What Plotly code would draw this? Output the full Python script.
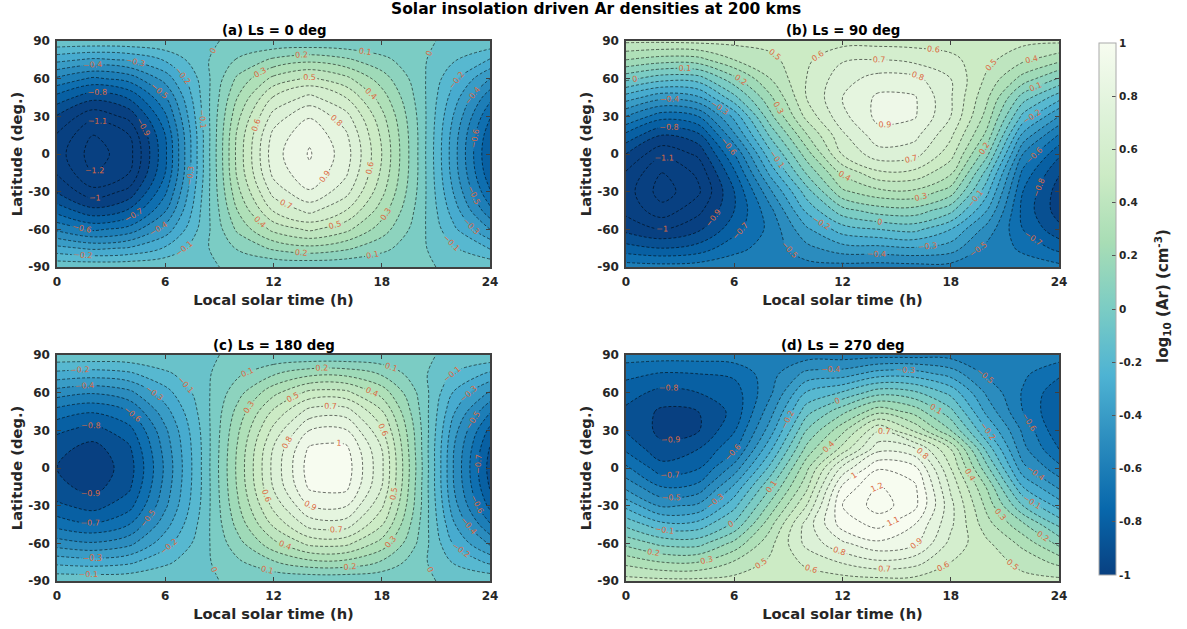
import plotly.graph_objects as go

W, H = 1187, 629
hours = [0, 2, 4, 6, 8, 10, 12, 14, 16, 18, 20, 22, 24]
lats = [90, 75, 60, 45, 30, 15, 0, -15, -30, -45, -60, -75, -90]
x_ticks = [0, 6, 12, 18, 24]
y_ticks = [-90, -60, -30, 0, 30, 60, 90]
y_tick_text = ["-90", "-60", "-30", "0", "30", "60", "90"]
bar_ticks = [-1, -0.8, -0.6, -0.4, -0.2, 0, 0.2, 0.4, 0.6, 0.8, 1]
bar_tick_text = ["-1", "-0.8", "-0.6", "-0.4", "-0.2", "0", "0.2", "0.4", "0.6", "0.8", "1"]

z_a = [
    [-.02, -.02, -.02, -.01, -.01, .01, .01, .01, .01, .01, .01, -.01, -.02],
    [-.27, -.32, -.29, -.19, -.03, .11, .22, .27, .22, .13, .03, -.09, -.21],
    [-.52, -.62, -.56, -.36, -.07, .22, .43, .52, .43, .25, .05, -.18, -.40],
    [-.74, -.87, -.79, -.51, -.09, .30, .61, .73, .60, .35, .07, -.25, -.57],
    [-.91, -1.07, -.97, -.62, -.11, .37, .74, .89, .74, .43, .09, -.31, -.69],
    [-1.01, -1.20, -1.10, -.70, -.13, .42, .83, .98, .82, .48, .10, -.35, -.77],
    [-1.05, -1.25, -1.14, -.72, -.13, .43, .86, 1.01, .85, .50, .10, -.36, -.80],
    [-1.01, -1.20, -1.10, -.70, -.13, .42, .83, .98, .82, .48, .10, -.35, -.77],
    [-.91, -1.07, -.97, -.62, -.11, .37, .74, .89, .74, .43, .09, -.31, -.69],
    [-.74, -.87, -.79, -.51, -.09, .30, .61, .73, .60, .35, .07, -.25, -.57],
    [-.52, -.62, -.56, -.36, -.07, .22, .43, .52, .43, .25, .05, -.18, -.40],
    [-.27, -.32, -.29, -.19, -.03, .11, .22, .27, .22, .13, .03, -.09, -.21],
    [-.02, -.02, -.02, -.01, -.01, .01, .01, .01, .01, .01, .01, -.01, -.02],
]

z_b = [
    [.52, .52, .53, .53, .54, .55, .56, .56, .56, .55, .54, .53, .52],
    [.30, .25, .26, .40, .47, .58, .69, .70, .67, .63, .53, .42, .33],
    [.03, -.06, -.05, .17, .40, .60, .76, .84, .83, .70, .48, .26, .09],
    [-.25, -.37, -.32, -.03, .28, .60, .80, .92, .91, .71, .42, .05, -.16],
    [-.50, -.66, -.60, -.27, .17, .53, .77, .93, .91, .70, .36, -.13, -.40],
    [-.73, -.90, -.83, -.42, .02, .39, .68, .86, .83, .62, .27, -.33, -.61],
    [-.90, -1.08, -.98, -.60, -.13, .25, .61, .76, .74, .54, .13, -.50, -.78],
    [-1.01, -1.20, -1.08, -.72, -.27, .11, .42, .58, .57, .42, -.04, -.63, -.89],
    [-1.05, -1.25, -1.12, -.80, -.42, -.05, .28, .37, .38, .25, -.17, -.70, -.95],
    [-1.03, -1.16, -1.03, -.80, -.53, -.18, .06, .15, .16, .03, -.30, -.73, -.95],
    [-.93, -1.00, -.92, -.74, -.57, -.32, -.15, -.10, -.07, -.20, -.44, -.70, -.87],
    [-.76, -.80, -.76, -.63, -.56, -.43, -.34, -.33, -.31, -.35, -.53, -.62, -.73],
    [-.55, -.56, -.55, -.54, -.53, -.54, -.54, -.55, -.54, -.54, -.55, -.55, -.57],
]

z_c = [
    [-.02, -.02, -.02, -.01, -.01, .01, .01, .01, .01, .01, .01, -.01, -.02],
    [-.23, -.25, -.22, -.12, -.03, .08, .19, .27, .27, .19, .04, -.11, -.22],
    [-.45, -.49, -.43, -.24, -.05, .16, .37, .53, .53, .36, .09, -.21, -.42],
    [-.64, -.69, -.60, -.34, -.07, .23, .52, .74, .75, .51, .12, -.29, -.59],
    [-.78, -.84, -.74, -.42, -.09, .28, .63, .90, .91, .62, .15, -.36, -.73],
    [-.87, -.94, -.82, -.46, -.10, .31, .71, 1.02, 1.03, .70, .16, -.40, -.81],
    [-.90, -.97, -.85, -.48, -.10, .32, .73, 1.05, 1.06, .72, .17, -.41, -.84],
    [-.87, -.94, -.82, -.46, -.10, .31, .71, 1.02, 1.03, .70, .16, -.40, -.81],
    [-.78, -.84, -.74, -.42, -.09, .28, .63, .90, .91, .62, .15, -.36, -.73],
    [-.64, -.69, -.60, -.34, -.07, .23, .52, .74, .75, .51, .12, -.29, -.59],
    [-.45, -.49, -.43, -.24, -.05, .16, .37, .53, .53, .36, .09, -.21, -.42],
    [-.23, -.25, -.22, -.12, -.03, .08, .19, .27, .27, .19, .04, -.11, -.22],
    [-.02, -.02, -.02, -.01, -.01, .01, .01, .01, .01, .01, .01, -.01, -.02],
]

z_d = [
    [-.55, -.55, -.55, -.54, -.54, -.55, -.55, -.54, -.54, -.54, -.54, -.55, -.55],
    [-.67, -.71, -.70, -.68, -.54, -.37, -.35, -.25, -.25, -.34, -.52, -.58, -.68],
    [-.76, -.83, -.80, -.75, -.52, -.19, -.09, .06, .02, -.13, -.42, -.61, -.77],
    [-.82, -.92, -.90, -.77, -.44, -.04, .17, .37, .26, .03, -.33, -.60, -.80],
    [-.81, -.93, -.91, -.71, -.35, .10, .37, .69, .48, .20, -.20, -.52, -.78],
    [-.72, -.87, -.80, -.62, -.22, .23, .54, .87, .82, .50, -.03, -.47, -.70],
    [-.58, -.76, -.71, -.46, -.07, .37, .83, 1.09, 1.03, .60, .13, -.37, -.57],
    [-.43, -.60, -.57, -.28, .09, .47, 1.02, 1.21, 1.12, .68, .29, -.20, -.42],
    [-.23, -.42, -.38, -.13, .23, .60, 1.10, 1.25, 1.13, .73, .37, .00, -.24],
    [-.03, -.17, -.16, .02, .37, .74, 1.05, 1.13, 1.00, .72, .44, .22, -.02],
    [.17, .07, .06, .23, .47, .73, .88, .98, .92, .67, .52, .37, .17],
    [.37, .30, .30, .41, .52, .62, .71, .78, .74, .60, .55, .47, .37],
    [.54, .53, .53, .54, .55, .55, .55, .56, .56, .54, .55, .53, .53],
]

panels = [
    ("(a) Ls = 0 deg", z_a, 57, 490, 41, 267),
    ("(b) Ls = 90 deg", z_b, 626, 1059, 41, 267),
    ("(c) Ls = 180 deg", z_c, 57, 490, 355, 581),
    ("(d) Ls = 270 deg", z_d, 626, 1059, 355, 581),
]

FONT = "DejaVu Sans"
DARK = "#262626"

# GnBu reversed, spanning -1..1
cbar_scale = [[0, "rgb(8,64,129)"], [0.125, "rgb(8,104,172)"], [0.25, "rgb(43,140,190)"],
              [0.375, "rgb(78,179,211)"], [0.5, "rgb(123,204,196)"], [0.625, "rgb(168,221,181)"],
              [0.75, "rgb(204,235,197)"], [0.875, "rgb(224,243,219)"], [1, "rgb(247,252,240)"]]
# Filled contours ignore cmin/cmax: stretch the stops so each band takes the colour of its lower level
LOW, HIGH = -1.4, 1.3
fill_scale = [[0, cbar_scale[0][1]]]
for pos, c in cbar_scale:
    v = -1 + 2 * pos
    fill_scale.append([(v - LOW) / (HIGH - LOW), c])
fill_scale.append([1, cbar_scale[-1][1]])

fig = go.Figure()
annotations = [
    dict(text="<b>Solar insolation driven Ar densities at 200 kms</b>",
         x=596 / W, y=1 - 9 / H, xref="paper", yref="paper", showarrow=False,
         xanchor="center", yanchor="middle", font=dict(family=FONT, size=15.5, color="black")),
    dict(text="<b>log<sub>10</sub> (Ar) (cm<sup>-3</sup>)</b>", textangle=-90,
         x=1162 / W, y=1 - 296 / H, xref="paper", yref="paper", showarrow=False,
         xanchor="center", yanchor="middle", font=dict(family=FONT, size=15, color=DARK)),
]

for i, (title, z, x0, x1, y0, y1) in enumerate(panels):
    suf = "" if i == 0 else str(i + 1)
    fig.add_trace(go.Contour(
        x=hours, y=lats, z=z, xaxis="x" + suf, yaxis="y" + suf,
        colorscale=fill_scale, showscale=False, autocontour=False,
        contours=dict(start=-1.3, end=1.3, size=0.1, coloring="fill", showlabels=True,
                      labelformat=".1~f",
                      labelfont=dict(family=FONT, size=8, color="#dc6a42")),
        line=dict(color="rgba(0,0,0,0.8)", width=0.7, dash="3px,2px", smoothing=1),
        hoverinfo="skip",
    ))
    axis = dict(showgrid=False, zeroline=False, showline=True, linecolor="#404040", linewidth=1.5,
                mirror="ticks", ticks="inside", ticklen=4, tickwidth=1.2, tickcolor="#404040",
                automargin=False, tickmode="array",
                tickfont=dict(family=FONT, size=12, color=DARK, weight="bold"))
    fig.layout["xaxis" + suf] = dict(axis, domain=[x0 / W, x1 / W], range=[0, 24],
                                     tickvals=x_ticks, ticklabelstandoff=3,
                                     anchor="y" + suf,
                                     title=dict(text="<b>Local solar time (h)</b>", standoff=7,
                                                font=dict(family=FONT, size=14.7, color=DARK)))
    fig.layout["yaxis" + suf] = dict(axis, domain=[1 - y1 / H, 1 - y0 / H], range=[-90, 90],
                                     tickvals=y_ticks, ticktext=y_tick_text, ticklabelstandoff=3,
                                     anchor="x" + suf,
                                     title=dict(text="<b>Latitude (deg.)</b>", standoff=2,
                                                font=dict(family=FONT, size=14.7, color=DARK)))
    annotations.append(dict(text="<b>" + title + "</b>", x=(x0 + x1) / 2 / W, y=1 - (y0 - 10) / H,
                            xref="paper", yref="paper", showarrow=False,
                            xanchor="center", yanchor="middle",
                            font=dict(family=FONT, size=13.3, color="black")))

# Colour bar carrier: a trace with no visible point
fig.add_trace(go.Scatter(
    x=[None], y=[None], mode="markers", hoverinfo="skip", showlegend=False,
    marker=dict(
        color=[-1], cmin=-1, cmax=1, colorscale=cbar_scale, showscale=True,
        colorbar=dict(
            thickness=17, thicknessmode="pixels", len=532, lenmode="pixels",
            x=1099 / W, xanchor="left", xref="paper", y=1 - 575 / H, yanchor="bottom", yref="paper",
            tickmode="array", tickvals=bar_ticks, ticktext=bar_tick_text,
            ticks="inside", ticklen=4, tickcolor="#555555",
            outlinecolor="#aaaaaa", outlinewidth=1, xpad=0, ypad=0,
            tickfont=dict(family=FONT, size=10.5, color=DARK, weight="bold"),
        ),
    ),
))

fig.update_layout(
    width=W, height=H, autosize=False, margin=dict(l=0, r=0, t=0, b=0, pad=0, autoexpand=False),
    paper_bgcolor="white", plot_bgcolor="white", annotations=annotations, showlegend=False,
)

fig.write_html("out.html", config={"displayModeBar": False},
               post_script="document.body.style.margin='0';")
